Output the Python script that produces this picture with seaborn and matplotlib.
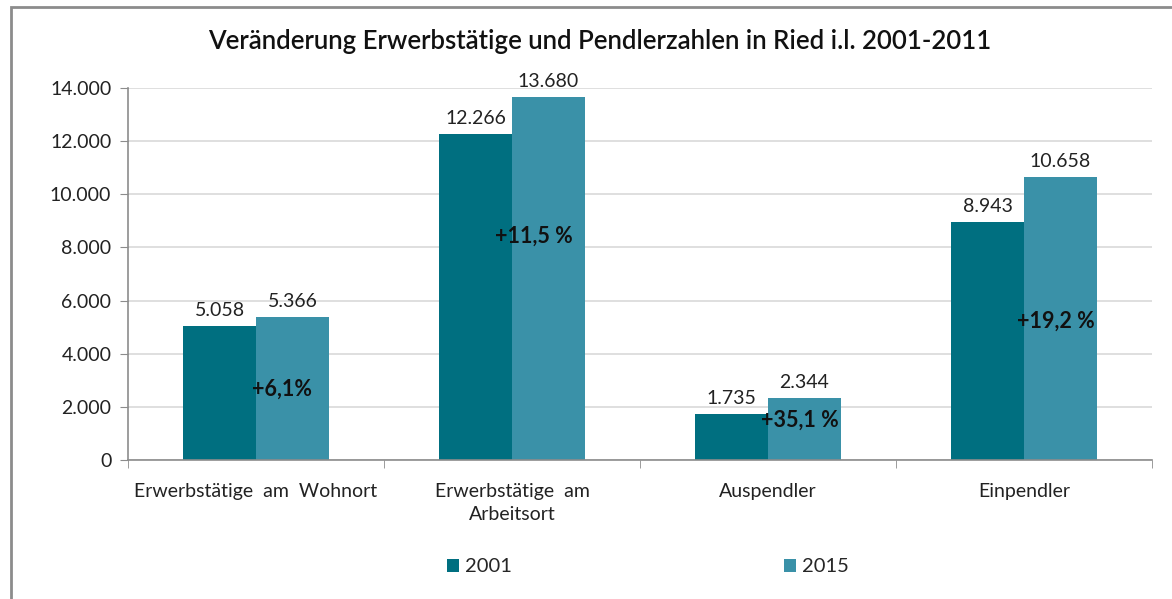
import pandas as pd
import matplotlib.pyplot as plt
import matplotlib.ticker as mticker
from matplotlib.patches import Rectangle
import seaborn as sns

# values
categories = ['Erwerbstätige  am  Wohnort', 'Erwerbstätige  am\nArbeitsort', 'Auspendler', 'Einpendler']
years = ['2001', '2015']
values_2001 = [5058, 12266, 1735, 8943]
values_2015 = [5366, 13680, 2344, 10658]
pct_labels = ['+6,1%', '+11,5 %', '+35,1 %', '+19,2 %']
# where the percentage notes sit (offset from category centre, height)
pct_label_dx = [0.10, 0.086, 0.125, 0.125]
pct_label_y = [2650, 8430, 1500, 5230]
colors = ['#006F80', '#3A91A8']

df = pd.DataFrame({
    'Kategorie': categories * 2,
    'Jahr': [years[0]] * 4 + [years[1]] * 4,
    'Wert': values_2001 + values_2015,
})

sns.set_style('white')
plt.rcParams['font.family'] = ['Lato', 'DejaVu Sans']

fig = plt.figure(figsize=(11.72, 5.99), dpi=100)
ax = fig.add_axes([128 / 1172, 1 - 460 / 599, 1024 / 1172, 372 / 599])

sns.barplot(data=df, x='Kategorie', y='Wert', hue='Jahr', palette=colors,
            width=0.57, gap=0, saturation=1, linewidth=0, ax=ax, legend=True)

# value labels above the bars
for cont in ax.containers:
    ax.bar_label(cont, labels=[f'{v:,.0f}'.replace(',', '.') for v in cont.datavalues],
                 padding=5, fontsize=14, color='#222222')

# change percentages
for i, (txt, dx, yv) in enumerate(zip(pct_labels, pct_label_dx, pct_label_y)):
    ax.text(i + dx, yv, txt, ha='center', va='center', fontsize=15.5,
            fontweight='bold', color='#111111')

ax.set_ylim(0, 14000)
ax.set_xlim(-0.5, 3.5)
ax.yaxis.set_major_locator(mticker.MultipleLocator(2000))
ax.yaxis.set_major_formatter(mticker.FuncFormatter(lambda v, p: f'{v:,.0f}'.replace(',', '.')))
ax.grid(axis='y', color='#D9D9D9', linewidth=1.2)
ax.set_axisbelow(True)
ax.set_xlabel('')
ax.set_ylabel('')

for s in ['top', 'right']:
    ax.spines[s].set_visible(False)
for s in ['left', 'bottom']:
    ax.spines[s].set_color('#8C8C8C')
    ax.spines[s].set_linewidth(1.2)

ax.tick_params(axis='y', left=True, length=6, color='#8C8C8C', labelsize=14,
               labelcolor='#222222', pad=6)
ax.tick_params(axis='x', which='major', bottom=False, labelsize=14,
               labelcolor='#222222', pad=13)
for lbl in ax.get_xticklabels():
    lbl.set_linespacing(1.45)
ax.set_xticks([-0.5, 0.5, 1.5, 2.5, 3.5], minor=True)
ax.tick_params(axis='x', which='minor', bottom=True, length=6, color='#8C8C8C')

ax.legend_.remove()
handles, labels = ax.get_legend_handles_labels()
fig.legend(handles, labels, loc='center', bbox_to_anchor=(648 / 1172, 1 - 567 / 599),
           ncol=2, frameon=False, fontsize=14.5, handlelength=0.6, handleheight=0.6,
           handletextpad=0.3, columnspacing=13.5)

fig.suptitle('Veränderung Erwerbstätige und Pendlerzahlen in Ried i.l. 2001-2011',
             x=0.512, y=1 - 42 / 599, va='center', fontsize=18.5, fontweight='semibold',
             color='#111111')

# outer frame
fig.patches.append(Rectangle((11 / 1172, -0.05), 1.1, 1 - 7 / 599 + 0.05,
                             transform=fig.transFigure, fill=False,
                             edgecolor='#8C8C8C', linewidth=2))

fig.savefig('out.png', dpi=100)
